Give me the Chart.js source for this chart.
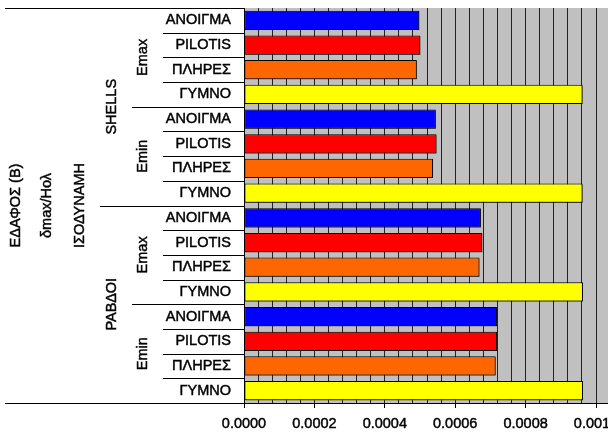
<!DOCTYPE html>
<html>
<head>
<meta charset="utf-8">
<script src="https://cdn.jsdelivr.net/npm/chart.js@4/dist/chart.umd.min.js"></script>
<style>
	html, body { margin: 0; padding: 0; background: #fff; overflow: hidden; }
	#wrap { width: 608px; height: 434px; overflow: hidden; }
</style>
</head>
<body>
<div id="wrap"><canvas id="chart" width="640" height="434"></canvas></div>
<script>
// kategorier, innerst til ytterst
var materials = ["ΑΝΟΙΓΜΑ", "PILOTIS", "ΠΛΗΡΕΣ", "ΓΥΜΝΟ"];
var moduli = ["Emax", "Emin"];
var elements = ["SHELLS", "ΡΑΒΔΟΙ"];
var outerLabels = ["ΙΣΟΔΥΝΑΜΗ", "δmax/Hολ", "ΕΔΑΦΟΣ (Β)"];

// verdier per materiale: SHELLS Emax, SHELLS Emin, ΡΑΒΔΟΙ Emax, ΡΑΒΔΟΙ Emin
var anoigma = [0.000498, 0.000545, 0.000673, 0.000719];
var pilotis = [0.000501, 0.000547, 0.000677, 0.000719];
var pliris = [0.000491, 0.000537, 0.000669, 0.000715];
var gymno = [0.000962, 0.000962, 0.000963, 0.000963];

var xTicks = ["0.0000", "0.0002", "0.0004", "0.0006", "0.0008", "0.0010"];

var colors = ["#0000ff", "#ff0000", "#ff6600", "#ffff00"];
var series = [anoigma, pilotis, pliris, gymno];

// bygger 16 rader
var labels = [];
var values = [];
var barColors = [];
for (var g = 0; g < 4; g++) {
	for (var m = 0; m < materials.length; m++) {
		labels.push(materials[m]);
		values.push(series[m][g]);
		barColors.push(colors[m]);
	}
}

var FONT = "'Liberation Sans', Arial, sans-serif";
var FS = 14.5;
var STROKE = 0.45; // litt tykkere tekst

function isMajor(v) {
	return Math.round(v / 0.00004) % 5 === 0;
}

// grå bakgrunn i plottet
var bgPlugin = {
	id: "plotBg",
	beforeDraw: function (chart) {
		var a = chart.chartArea;
		var c = chart.ctx;
		c.save();
		c.fillStyle = "#c0c0c0";
		c.fillRect(a.left, a.top, a.right - a.left, a.bottom - a.top);
		c.restore();
	}
};

// skygge under stolpene
var shadowPlugin = {
	id: "barShadow",
	beforeDatasetDraw: function (chart) {
		var c = chart.ctx;
		c.save();
		c.shadowColor = "rgba(0,0,0,0.45)";
		c.shadowOffsetX = 1;
		c.shadowOffsetY = 1;
		c.shadowBlur = 0;
	},
	afterDatasetDraw: function (chart) {
		chart.ctx.restore();
	}
};

// grupperte kategorietiketter til venstre
var groupPlugin = {
	id: "groups",
	afterDraw: function (chart) {
		var y = chart.scales.y;
		var c = chart.ctx;
		var n = labels.length;
		var rowH = (y.bottom - y.top) / n;
		var right = y.right;
		c.save();
		c.strokeStyle = "#000";
		c.lineWidth = 1;
		for (var k = 0; k <= n; k++) {
			var startX;
			if (k === 0 || k === n) startX = 5;
			else if (k % 8 === 0) startX = 100;
			else if (k % 4 === 0) startX = 132;
			else startX = 163;
			var py = Math.round(y.top + k * rowH) + 0.5;
			c.beginPath();
			c.moveTo(startX, py);
			c.lineTo(right, py);
			c.stroke();
		}
		c.fillStyle = "#000";
		c.strokeStyle = "#000";
		c.lineWidth = STROKE;
		c.font = FS + "px " + FONT;
		c.textAlign = "center";
		c.textBaseline = "middle";
		function vtext(t, x, cy) {
			c.save();
			c.translate(x, cy);
			c.rotate(-Math.PI / 2);
			c.fillText(t, 0, 0);
			c.strokeText(t, 0, 0);
			c.restore();
		}
		// Emax / Emin
		for (var g = 0; g < 4; g++) {
			var cy = y.top + (g * 4 + 2) * rowH;
			vtext(moduli[g % 2], 143, cy);
		}
		// SHELLS / ΡΑΒΔΟΙ
		for (var e = 0; e < 2; e++) {
			vtext(elements[e], 112, y.top + (e * 8 + 4) * rowH);
		}
		var mid = (y.top + y.bottom) / 2;
		vtext(outerLabels[0], 80, mid);
		vtext(outerLabels[1], 47, mid);
		vtext(outerLabels[2], 16, mid);
		c.restore();
	}
};

var ctx = document.getElementById("chart");
var chart = new Chart(ctx, {
	type: "bar",
	data: {
		labels: labels,
		datasets: [{
			data: values,
			backgroundColor: barColors,
			borderColor: "#000",
			borderWidth: 1,
			borderSkipped: false,
			barPercentage: 0.78,
			categoryPercentage: 1
		}]
	},
	options: {
		indexAxis: "y",
		responsive: false,
		animation: false,
		events: [],
		layout: { padding: { top: 8, left: 0, right: 0, bottom: 0 } },
		plugins: {
			legend: { display: false },
			tooltip: { enabled: false }
		},
		scales: {
			x: {
				min: 0,
				max: 0.001125,
				afterFit: function (s) {
					s.height = 31;
					s.paddingLeft = 0;
					s.paddingRight = 0;
				},
				border: { display: true, color: "#000", width: 1 },
				grid: {
					color: "#222",
					lineWidth: 1,
					drawTicks: true,
					tickLength: 5,
					tickColor: function (c) {
						return c.tick && isMajor(c.tick.value) ? "#000" : "rgba(0,0,0,0)";
					}
				},
				ticks: {
					stepSize: 0.00004,
					includeBounds: false,
					autoSkip: false,
					maxRotation: 0,
					minRotation: 0,
					padding: 7,
					color: "#000",
					textStrokeColor: "#000",
					textStrokeWidth: STROKE,
					font: { family: FONT, size: FS },
					callback: function (v) {
						if (!isMajor(v)) return "";
						return xTicks[Math.round(v / 0.0002)];
					}
				}
			},
			y: {
				afterFit: function (s) {
					s.width = 244;
					s.paddingTop = 0;
					s.paddingBottom = 0;
				},
				border: { display: true, color: "#000", width: 1 },
				grid: { display: false, drawTicks: false },
				ticks: {
					padding: 13,
					color: "#000",
					textStrokeColor: "#000",
					textStrokeWidth: STROKE,
					font: { family: FONT, size: FS }
				}
			}
		}
	},
	plugins: [bgPlugin, shadowPlugin, groupPlugin]
});
</script>
</body>
</html>
